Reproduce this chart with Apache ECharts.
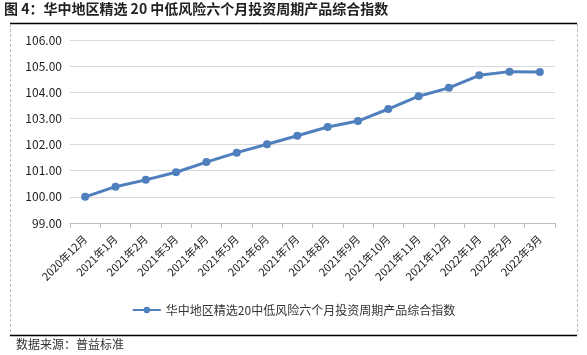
<!DOCTYPE html>
<html><head><meta charset="utf-8">
<script src="https://cdn.jsdelivr.net/npm/echarts@6/dist/echarts.min.js"></script>
<style>html,body{margin:0;padding:0;background:#fff}#c{width:587px;height:355px}</style>
</head><body><div id="c"></div>
<script>
const titleText = '图 4：华中地区精选 20 中低风险六个月投资周期产品综合指数';
const sourceText = '数据来源：普益标准';
const seriesName = '华中地区精选20中低风险六个月投资周期产品综合指数';
const categories = ['2020年12月','2021年1月','2021年2月','2021年3月','2021年4月','2021年5月','2021年6月','2021年7月','2021年8月','2021年9月','2021年10月','2021年11月','2021年12月','2022年1月','2022年2月','2022年3月'];
const values = [100.00,100.39,100.65,100.94,101.33,101.69,102.01,102.34,102.67,102.90,103.36,103.85,104.17,104.65,104.79,104.78];
const yMin = 99, yMax = 106, yStep = 1;

const font = '"Noto Sans CJK SC", sans-serif';
const chart = echarts.init(document.getElementById('c'));
chart.setOption({
  animation: false,
  textStyle: { fontFamily: font },
  grid: { left: 70, right: 32, top: 40, bottom: 132 },
  graphic: [
    { type: 'text', left: 4, top: 2, style: { text: titleText, fill: '#222', font: 'bold 14px ' + font } },
    { type: 'line', shape: { x1: 10, y1: 23.5, x2: 577, y2: 23.5 }, style: { stroke: '#000', lineWidth: 1.5 } },
    { type: 'line', shape: { x1: 10.5, y1: 24, x2: 10.5, y2: 335 }, style: { stroke: '#bbb', lineWidth: 1, lineDash: [3, 2] } },
    { type: 'line', shape: { x1: 577.5, y1: 24, x2: 577.5, y2: 335 }, style: { stroke: '#bbb', lineWidth: 1, lineDash: [3, 2] } },
    { type: 'line', shape: { x1: 10, y1: 335.5, x2: 577, y2: 335.5 }, style: { stroke: '#000', lineWidth: 1.5 } },
    { type: 'text', left: 16, top: 338, style: { text: sourceText, fill: '#333', font: '12px ' + font } }
  ],
  legend: {
    bottom: 34, left: 'center',
    itemWidth: 28, itemHeight: 8, itemGap: 6,
    textStyle: { color: '#333', fontSize: 12, fontFamily: font },
    data: [seriesName]
  },
  xAxis: {
    type: 'category', data: categories, boundaryGap: true,
    axisLine: { lineStyle: { color: '#bfbfbf' } },
    axisTick: { show: true, alignWithLabel: false, length: 5, lineStyle: { color: '#bfbfbf' } },
    axisLabel: { rotate: 45, interval: 0, color: '#222', fontSize: 11, margin: 14, fontFamily: font }
  },
  yAxis: {
    type: 'value', min: yMin, max: yMax, interval: yStep,
    axisLine: { show: false }, axisTick: { show: false },
    splitLine: { lineStyle: { color: '#d9d9d9' } },
    axisLabel: { color: '#222', fontSize: 12, margin: 8, fontFamily: font, formatter: v => v.toFixed(2) }
  },
  series: [{
    name: seriesName, type: 'line', data: values,
    symbol: 'circle', symbolSize: 8,
    lineStyle: { color: '#4f7fbd', width: 3 },
    itemStyle: { color: '#4f7fbd' }
  }]
});
</script></body></html>
